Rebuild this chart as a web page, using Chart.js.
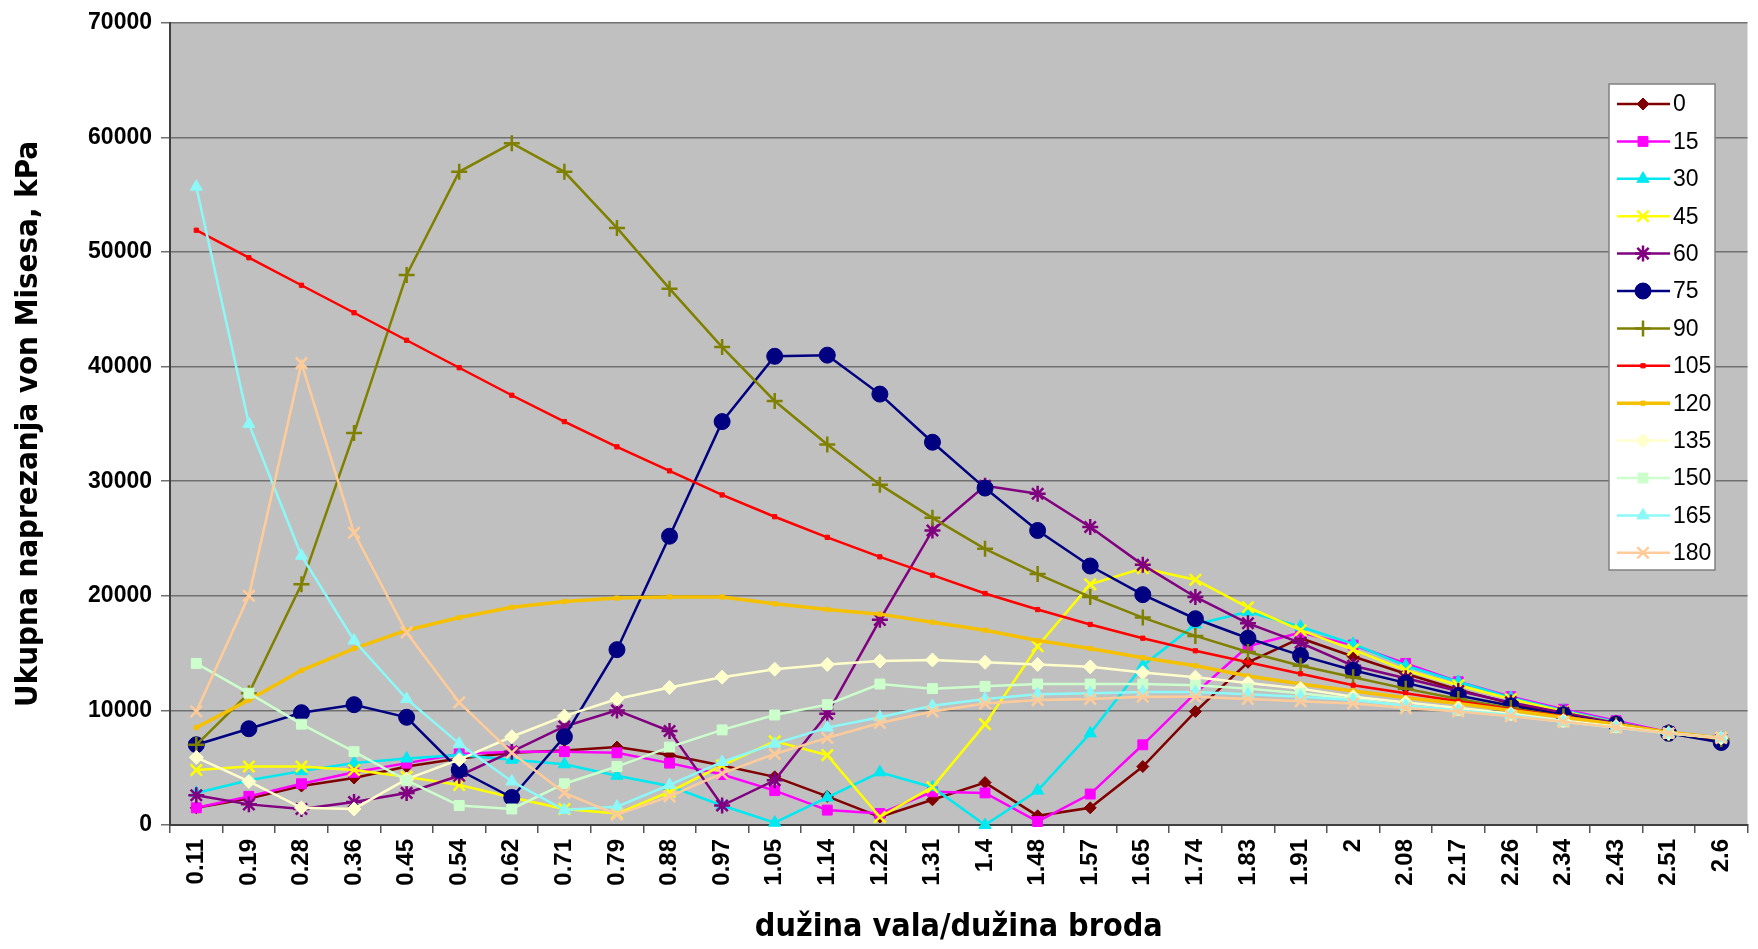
<!DOCTYPE html>
<html>
<head>
<meta charset="utf-8">
<script src="https://cdn.jsdelivr.net/npm/chart.js@4/dist/chart.umd.min.js"></script>
<style>
  html, body { margin: 0; padding: 0; background: #fff; }
  canvas { display: block; }
</style>
</head>
<body>
<canvas id="stressChart" width="1758" height="949"></canvas>
<script>
// omjer duzine vala i duzine broda
const categories = ['0.11','0.19','0.28','0.36','0.45','0.54','0.62','0.71','0.79','0.88','0.97','1.05','1.14','1.22','1.31','1.4','1.48','1.57','1.65','1.74','1.83','1.91','2','2.08','2.17','2.26','2.34','2.43','2.51','2.6'];

const headings = ['0','15','30','45','60','75','90','105','120','135','150','165','180'];

// von Mises, kPa (procijenjeno sa slike)
const s0   = [1500, 2300, 3400, 4100, 5100, 5800, 6300, 6500, 6800, 6100, 5200, 4200, 2500, 700, 2200, 3700, 800, 1500, 5100, 9900, 14200, 16300, 14700, 13200, 11800, 10600, 9600, 8700, 8000, 7400];
const s15  = [1500, 2500, 3600, 4600, 5400, 6200, 6400, 6400, 6300, 5400, 4400, 3000, 1300, 1000, 2900, 2800, 300, 2700, 7000, 11500, 15600, 16800, 15700, 14100, 12500, 11200, 10100, 9100, 8100, 7600];
const s30  = [2800, 3900, 4700, 5400, 5800, 6100, 5700, 5300, 4300, 3400, 1700, 200, 2400, 4600, 3300, 0, 3000, 8000, 13900, 17500, 18600, 17300, 15800, 13900, 12500, 11100, 10000, 9000, 8000, 7500];
const s45  = [4800, 5100, 5100, 4800, 4200, 3500, 2400, 1400, 1000, 2900, 5200, 7300, 6100, 700, 3300, 8800, 15600, 21000, 22400, 21400, 19000, 17000, 15300, 13500, 12200, 11000, 9900, 8900, 8000, 7600];
const s60  = [2600, 1800, 1400, 2000, 2800, 4300, 6400, 8600, 10000, 8200, 1700, 3900, 9700, 17900, 25700, 29600, 28900, 26000, 22700, 19900, 17600, 15900, 13900, 12800, 11700, 10700, 9800, 8900, 8100, 7500];
const s75  = [7000, 8400, 9800, 10500, 9400, 4800, 2400, 7700, 15300, 25200, 35200, 40900, 41000, 37600, 33400, 29400, 25700, 22600, 20100, 18000, 16300, 14800, 13500, 12400, 11300, 10400, 9600, 8800, 8000, 7200];
const s90  = [7000, 11500, 21000, 34200, 48000, 57000, 59500, 57000, 52100, 46800, 41700, 37000, 33200, 29700, 26800, 24100, 21900, 19900, 18100, 16500, 15100, 13900, 12900, 11900, 11000, 10200, 9500, 8700, 8000, 7500];
const s105 = [51900, 49500, 47100, 44700, 42300, 39900, 37500, 35200, 33000, 30900, 28800, 26900, 25100, 23400, 21800, 20200, 18800, 17500, 16300, 15200, 14200, 13200, 12200, 11500, 10800, 10100, 9500, 8800, 8100, 7500];
const s120 = [8500, 10900, 13500, 15400, 17000, 18100, 19000, 19500, 19800, 19900, 19900, 19300, 18800, 18400, 17700, 17000, 16100, 15400, 14600, 13900, 13000, 12300, 11700, 11100, 10600, 10000, 9400, 8800, 8100, 7600];
const s135 = [5900, 3800, 1500, 1400, 4000, 5700, 7700, 9500, 11000, 12000, 12900, 13600, 14000, 14300, 14400, 14200, 14000, 13800, 13300, 12900, 12400, 11900, 11200, 10700, 10200, 9700, 9100, 8600, 8000, 7600];
const s150 = [14100, 11500, 8800, 6400, 3900, 1700, 1400, 3600, 5100, 6800, 8300, 9600, 10500, 12300, 11900, 12100, 12300, 12300, 12300, 12200, 11900, 11500, 11000, 10400, 10000, 9600, 9000, 8500, 8000, 7600];
const s165 = [55700, 35000, 23500, 16100, 11000, 7100, 3800, 1300, 1600, 3500, 5500, 7100, 8500, 9400, 10400, 11000, 11400, 11500, 11600, 11600, 11400, 11200, 10900, 10400, 10000, 9600, 9000, 8500, 8000, 7600];
const s180 = [9900, 20000, 40300, 25500, 16800, 10700, 6300, 2800, 900, 2500, 4500, 6200, 7600, 8900, 9900, 10600, 10900, 11000, 11200, 11200, 11000, 10800, 10600, 10200, 9900, 9500, 9000, 8500, 8000, 7600];

const yTicks = [0, 10000, 20000, 30000, 40000, 50000, 60000, 70000];

const seriesValues = [s0, s15, s30, s45, s60, s75, s90, s105, s120, s135, s150, s165, s180];
const colors  = ['#800000','#ff00ff','#00e8f0','#ffff00','#800080','#000080','#808000','#ff0000','#f5c000','#ffffcc','#ccffcc','#8cf8f8','#ffcc99'];
const markers = ['rectRot','rect','triangle','crossRot','star','circle','cross','rect','rect','rectRot','rect','triangle','crossRot'];
const radii   = [6, 7, 7, 8, 8, 8, 8, 3, 3, 7, 7, 7, 8];

const datasets = headings.map((h, i) => ({
    label: h,
    data: seriesValues[i],
    borderColor: colors[i],
    backgroundColor: colors[i],
    pointBackgroundColor: colors[i],
    pointBorderColor: colors[i],
    pointStyle: markers[i],
    pointRadius: radii[i],
    pointBorderWidth: (markers[i] === 'cross' || markers[i] === 'crossRot' || markers[i] === 'star') ? 2.5 : 1,
    borderWidth: i === 8 ? 3.5 : 2.5,
    tension: 0,
    fill: false,
    clip: false,
    order: headings.length - i
}));

const plotBackground = {
    id: 'plotBackground',
    beforeDraw(chart) {
        const { ctx, chartArea } = chart;
        ctx.save();
        ctx.fillStyle = '#c0c0c0';
        ctx.fillRect(chartArea.left, chartArea.top, chartArea.right - chartArea.left, chartArea.bottom - chartArea.top);
        ctx.restore();
    }
};

// legenda u okviru unutar podrucja grafa
const boxLegend = {
    id: 'boxLegend',
    afterDraw(chart) {
        const ctx = chart.ctx;
        const x0 = 1609, y0 = 84, w = 106, h = 486, step = 37.4;
        ctx.save();
        ctx.fillStyle = '#ffffff';
        ctx.fillRect(x0, y0, w, h);
        ctx.strokeStyle = '#808080';
        ctx.lineWidth = 1.5;
        ctx.strokeRect(x0, y0, w, h);
        chart.data.datasets.forEach((ds, i) => {
            const y = y0 + 20 + i * step;
            ctx.strokeStyle = ds.borderColor;
            ctx.fillStyle = ds.pointBackgroundColor;
            ctx.lineWidth = ds.borderWidth;
            ctx.beginPath();
            ctx.moveTo(x0 + 8, y);
            ctx.lineTo(x0 + 61, y);
            ctx.stroke();
            ctx.lineWidth = ds.pointBorderWidth;
            Chart.helpers.drawPoint(ctx, {
                pointStyle: ds.pointStyle,
                radius: ds.pointRadius,
                borderWidth: ds.pointBorderWidth,
                rotation: 0
            }, x0 + 34, y);
            ctx.fillStyle = '#000';
            ctx.font = '23px "Liberation Sans", Arial, sans-serif';
            ctx.textBaseline = 'middle';
            ctx.textAlign = 'left';
            ctx.fillText(ds.label, x0 + 64, y + 1);
        });
        ctx.restore();
    }
};

new Chart(document.getElementById('stressChart').getContext('2d'), {
    type: 'line',
    data: { labels: categories, datasets: datasets },
    plugins: [plotBackground, boxLegend],
    options: {
        responsive: false,
        animation: false,
        devicePixelRatio: 1,
        layout: { padding: { top: 20, right: 0, left: 0, bottom: 0 } },
        plugins: {
            legend: { display: false },
            tooltip: { enabled: false }
        },
        scales: {
            x: {
                offset: true,
                afterFit(scale) { scale.height = 124; },
                grid: { display: true, drawOnChartArea: false, offset: true, tickLength: 8, color: '#555', lineWidth: 1.5 },
                border: { display: true, color: '#404040', width: 2 },
                ticks: {
                    maxRotation: 90, minRotation: 90, autoSkip: false, padding: 6,
                    color: '#000',
                    font: { family: '"Liberation Sans", Arial, sans-serif', size: 24, weight: 'bold' }
                },
                title: {
                    display: true,
                    text: 'dužina vala/dužina broda',
                    color: '#000',
                    padding: { top: 0, bottom: 2 },
                    font: { family: '"Liberation Sans Narrow", "DejaVu Sans Condensed", "Liberation Sans", sans-serif', size: 32, weight: 'bold' }
                }
            },
            y: {
                min: 0,
                max: 70000,
                afterFit(scale) { scale.width = 170; },
                afterBuildTicks(scale) { scale.ticks = yTicks.map(v => ({ value: v })); },
                grid: { color: '#707070', lineWidth: 1.5, tickLength: 9 },
                border: { display: true, color: '#404040', width: 2 },
                ticks: {
                    padding: 9,
                    color: '#000',
                    callback: (v) => String(v),
                    font: { family: '"Liberation Sans", Arial, sans-serif', size: 23, weight: 'bold' }
                },
                title: {
                    display: true,
                    text: 'Ukupna naprezanja von Misesa, kPa',
                    color: '#000',
                    padding: { top: 10, bottom: 0 },
                    font: { family: '"Liberation Sans Narrow", "DejaVu Sans Condensed", "Liberation Sans", sans-serif', size: 31, weight: 'bold' }
                }
            }
        }
    }
});
</script>
</body>
</html>
